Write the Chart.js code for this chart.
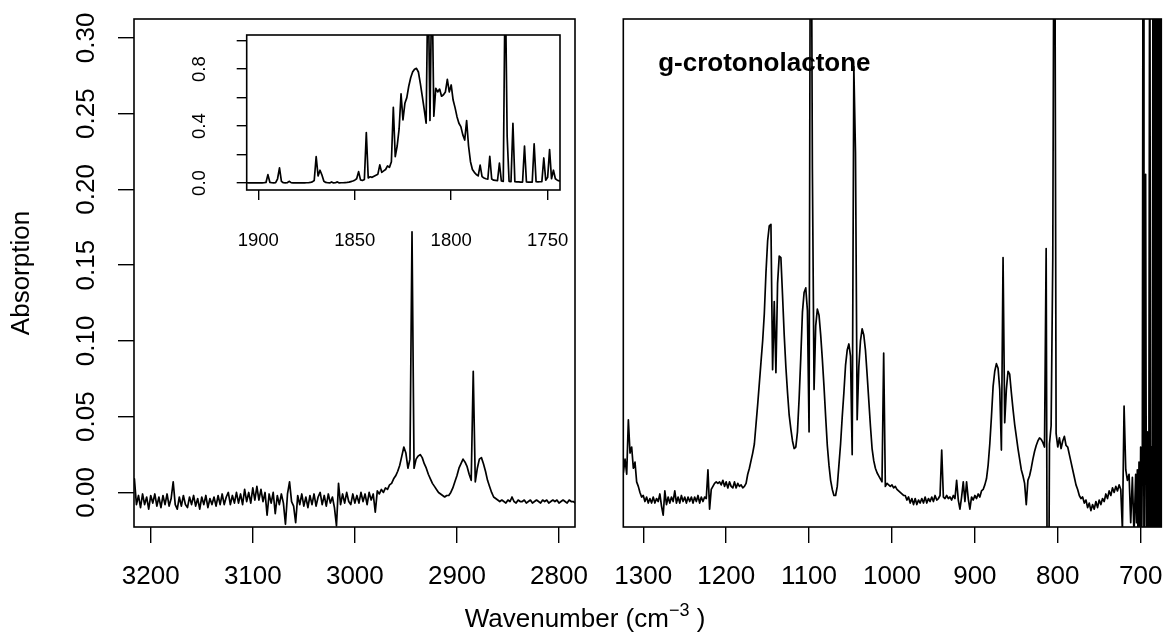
<!DOCTYPE html>
<html>
<head>
<meta charset="utf-8">
<title>g-crotonolactone IR absorption</title>
<script src="https://cdn.jsdelivr.net/npm/chart.js"></script>
<style>
    body { margin: 0; background: #fff; }
    .wrap { position: relative; width: 1166px; height: 635px; overflow: hidden; }
    canvas { position: absolute; top: 0; }
    #leftChart { left: 0; }
    #rightChart { left: 583px; }
    #insetChart { left: 180px; top: 20px; }
    #xTitle {
        position: absolute; left: 585px; top: 605px;
        transform: translateX(-50%);
        font: 26px/26px "Liberation Sans", Arial, sans-serif;
        white-space: nowrap; color: #000;
    }
    #xTitle sup { font-size: 18px; position: relative; top: -0.6em; vertical-align: baseline; }
</style>
</head>
<body>
<div class="wrap">
    <canvas id="leftChart" width="610" height="635"></canvas>
    <canvas id="rightChart" width="583" height="635"></canvas>
    <canvas id="insetChart" width="400" height="240"></canvas>
    <div id="xTitle">Wavenumber (cm<sup>−3</sup> )</div>
</div>
<script>
// wavenumber grids (cm-1), running high -> low
const leftStart = 3216, leftStep = 2;
const rightStart = 1324, rightStep = 2;
const edgeStart = 705, edgeStep = 1;
const insetStart = 1906, insetStep = 1;

// C-H stretch region, 3216 -> 2784
const leftAbs = [
    0.009, -0.008, -0.002, -0.010, -0.001, -0.008, -0.003, -0.011, -0.002, -0.007,
    -0.001, -0.009, -0.003, -0.010, -0.002, -0.008, -0.001, -0.009, -0.004, 0.007,
    -0.008, -0.011, -0.003, -0.009, -0.002, -0.008, -0.010, -0.003, -0.008, -0.002,
    -0.009, -0.004, -0.011, -0.003, -0.008, -0.002, -0.010, -0.004, -0.008, -0.003,
    -0.009, -0.002, -0.008, -0.001, -0.008, -0.003, 0.000, -0.008, -0.002, -0.007,
    0.000, -0.007, -0.001, -0.008, 0.002, -0.006, 0.000, -0.007, 0.003, -0.005,
    0.004, -0.005, 0.002, -0.006, 0.000, -0.015, -0.001, -0.007, 0.000, -0.014,
    -0.002, -0.008, -0.001, -0.007, -0.021, -0.001, 0.007, -0.006, -0.009, -0.020,
    -0.002, -0.008, -0.001, -0.009, -0.003, -0.010, -0.002, -0.008, -0.001, -0.009,
    -0.003, 0.000, -0.008, -0.002, -0.009, -0.001, -0.007, -0.003, -0.010, -0.022,
    0.006, -0.008, -0.001, -0.007, 0.000, -0.006, -0.008, -0.001, -0.007, -0.002,
    -0.007, 0.000, -0.006, -0.001, -0.008, 0.000, -0.005, -0.001, -0.013, 0.001,
    -0.001, 0.002, 0.000, 0.003, 0.002, 0.005, 0.006, 0.009, 0.011, 0.014,
    0.018, 0.024, 0.030, 0.026, 0.016, 0.022, 0.172, 0.016, 0.022, 0.024,
    0.025, 0.023, 0.019, 0.016, 0.012, 0.009, 0.006, 0.004, 0.002, 0.000,
    -0.001, -0.002, -0.003, -0.002, -0.002, 0.000, 0.003, 0.007, 0.011, 0.016,
    0.019, 0.022, 0.020, 0.017, 0.012, 0.008, 0.080, 0.007, 0.016, 0.022,
    0.023, 0.019, 0.014, 0.008, 0.004, 0.000, -0.003, -0.004, -0.005, -0.006,
    -0.005, -0.006, -0.007, -0.005, -0.006, -0.003, -0.006, -0.007, -0.005, -0.006,
    -0.006, -0.005, -0.007, -0.006, -0.005, -0.007, -0.006, -0.005, -0.006, -0.007,
    -0.005, -0.006, -0.005, -0.007, -0.006, -0.005, -0.006, -0.005, -0.007, -0.006,
    -0.005, -0.006, -0.007, -0.005, -0.006, -0.006, -0.007
];

// fingerprint region, 1324 -> 706
const rightAbs = [
    0.013, 0.022, 0.012, 0.048, 0.026, 0.030, 0.016, 0.020, 0.007, 0.004,
    0.000, -0.003, -0.002, -0.006, -0.003, -0.007, -0.004, -0.007, -0.003, -0.007,
    -0.004, -0.006, -0.001, -0.009, -0.015, 0.001, -0.008, -0.003, -0.007, -0.003,
    -0.006, 0.001, -0.007, -0.003, -0.007, -0.002, -0.006, -0.003, -0.007, -0.003,
    -0.006, -0.003, -0.007, -0.003, -0.006, -0.002, -0.007, -0.003, -0.006, -0.003,
    -0.004, 0.015, -0.011, 0.002, 0.004, 0.006, 0.007, 0.006, 0.007, 0.005,
    0.008, 0.004, 0.007, 0.003, 0.007, 0.004, 0.003, 0.007, 0.003, 0.006,
    0.004, 0.005, 0.003, 0.004, 0.006, 0.012, 0.016, 0.021, 0.026, 0.032,
    0.045, 0.058, 0.072, 0.086, 0.100, 0.118, 0.145, 0.166, 0.176, 0.177,
    0.081, 0.126, 0.079, 0.138, 0.156, 0.155, 0.130, 0.104, 0.083, 0.066,
    0.051, 0.042, 0.034, 0.029, 0.030, 0.040, 0.062, 0.089, 0.119, 0.132,
    0.135, 0.120, 0.040, 0.500, 0.213, 0.068, 0.110, 0.121, 0.117, 0.104,
    0.088, 0.070, 0.050, 0.031, 0.018, 0.008, 0.002, -0.002, -0.002, 0.004,
    0.018, 0.032, 0.050, 0.066, 0.084, 0.094, 0.098, 0.090, 0.025, 0.281,
    0.224, 0.048, 0.083, 0.100, 0.108, 0.104, 0.094, 0.078, 0.061, 0.044,
    0.029, 0.021, 0.016, 0.013, 0.011, 0.009, 0.007, 0.092, 0.004, 0.006,
    0.005, 0.004, 0.005, 0.003, 0.004, 0.002, 0.001, 0.000, -0.001, -0.002,
    -0.002, -0.005, -0.003, -0.007, -0.004, -0.008, -0.004, -0.008, -0.005, -0.007,
    -0.004, -0.007, -0.003, -0.007, -0.004, -0.006, -0.003, -0.006, -0.002, -0.005,
    -0.004, -0.002, 0.028, -0.003, -0.004, -0.002, -0.004, -0.003, -0.005, -0.002,
    -0.004, 0.008, -0.005, -0.011, -0.003, 0.007, -0.006, 0.007, -0.004, -0.011,
    -0.003, -0.005, -0.002, -0.004, -0.001, -0.003, 0.001, 0.002, 0.005, 0.009,
    0.018, 0.032, 0.050, 0.070, 0.080, 0.085, 0.082, 0.068, 0.028, 0.155,
    0.046, 0.068, 0.080, 0.078, 0.066, 0.055, 0.045, 0.037, 0.029, 0.022,
    0.015, 0.011, 0.006, -0.008, 0.008, 0.011, 0.016, 0.022, 0.027, 0.031,
    0.034, 0.036, 0.035, 0.033, 0.030, 0.161, -0.200, 0.032, 0.044, 0.155,
    0.500, 0.039, 0.030, 0.036, 0.029, 0.034, 0.037, 0.031, 0.030, 0.025,
    0.020, 0.015, 0.010, 0.005, 0.002, -0.002, -0.004, -0.003, -0.007, -0.005,
    -0.010, -0.007, -0.012, -0.008, -0.011, -0.006, -0.010, -0.005, -0.008, -0.004,
    -0.006, -0.001, -0.004, 0.001, -0.002, 0.003, 0.000, 0.004, 0.001, 0.005,
    0.002, -0.025, 0.057, 0.015, 0.008, 0.012, -0.020, 0.010, -0.028, 0.012
];

// low-frequency edge, sampled every 1 cm-1, 705 -> 675
const edgeAbs = [
    -0.020, 0.015, -0.045, 0.020, -0.050, 0.030, -0.050, 0.020, 0.450, -0.050,
    0.030, 0.210, -0.055, 0.040, -0.055, 0.050, 0.450, -0.060, 0.030, -0.060,
    0.450, -0.060, 0.450, -0.060, 0.450, -0.060, 0.450, -0.060, 0.450, -0.060,
    0.450
];

// carbonyl band (inset), 1906 -> 1744
const insetAbs = [
    0.002, 0.001, 0.002, 0.001, 0.002, 0.001, 0.002, 0.001, 0.001, 0.002,
    0.004, 0.059, 0.005, 0.002, 0.001, 0.002, 0.030, 0.106, 0.012, 0.002,
    0.001, 0.002, 0.012, 0.003, 0.001, 0.002, 0.001, 0.002, 0.001, 0.002,
    0.001, 0.002, 0.002, 0.004, 0.008, 0.018, 0.185, 0.050, 0.090, 0.056,
    0.012, 0.004, 0.002, 0.001, 0.008, 0.001, 0.002, 0.008, 0.001, 0.002,
    0.002, 0.003, 0.004, 0.006, 0.010, 0.014, 0.020, 0.030, 0.080, 0.022,
    0.018, 0.025, 0.354, 0.036, 0.044, 0.040, 0.048, 0.055, 0.062, 0.127,
    0.075, 0.085, 0.095, 0.120, 0.110, 0.150, 0.532, 0.185, 0.260, 0.380,
    0.626, 0.443, 0.560, 0.600, 0.680, 0.740, 0.780, 0.800, 0.806, 0.780,
    0.700, 0.610, 0.520, 0.420, 1.500, 0.440, 1.500, 0.470, 0.666, 0.640,
    0.660, 0.610, 0.620, 0.640, 0.729, 0.640, 0.689, 0.583, 0.530, 0.466,
    0.420, 0.396, 0.340, 0.302, 0.438, 0.260, 0.150, 0.095, 0.075, 0.060,
    0.050, 0.126, 0.045, 0.035, 0.030, 0.028, 0.188, 0.028, 0.020, 0.018,
    0.016, 0.140, 0.015, 0.012, 1.500, 0.330, 0.012, 0.010, 0.420, 0.010,
    0.008, 0.008, 0.006, 0.007, 0.260, 0.008, 0.006, 0.007, 0.006, 0.275,
    0.010, 0.008, 0.009, 0.010, 0.176, 0.020, 0.040, 0.235, 0.030, 0.090,
    0.030, 0.020, 0.015
];

// axis ticks
const leftXTicks = [3200, 3100, 3000, 2900, 2800];
const rightXTicks = [1300, 1200, 1100, 1000, 900, 800, 700];
const absTicks = [0, 0.05, 0.10, 0.15, 0.20, 0.25, 0.30];
const insetXTicks = [1900, 1850, 1800, 1750];
const insetYTicks = [0, 0.2, 0.4, 0.6, 0.8, 1.0];
const insetYLabels = ['0.0', '', '0.4', '', '0.8', ''];

const family = '"Liberation Sans", Arial, sans-serif';
Chart.defaults.font.family = family;
Chart.defaults.color = '#000';

function toPoints(start, step, values) {
    return values.map((v, i) => ({x: start - i * step, y: v}));
}

function spectrum(points) {
    return {
        data: points,
        showLine: true,
        borderColor: '#000',
        borderWidth: 1.7,
        borderJoinStyle: 'round',
        borderCapStyle: 'round',
        pointRadius: 0,
        tension: 0
    };
}

// fixed tick lists instead of auto ticks
function useTicks(list) {
    return function (scale) {
        scale.ticks = list.map(v => ({value: v}));
    };
}

// pin axis size so the plot box lands where we want it
function pinSize(prop, size) {
    return function (scale) {
        scale[prop] = size;
        scale.paddingLeft = scale.paddingRight = scale.paddingTop = scale.paddingBottom = 0;
    };
}

function tickMarks(len) {
    return {drawOnChartArea: false, tickLength: len, color: '#000', lineWidth: 1.4};
}

// plain frame round the plot area
const boxPlugin = {
    id: 'box',
    afterDatasetsDraw(chart) {
        const a = chart.chartArea, c = chart.ctx;
        c.save();
        c.strokeStyle = '#000';
        c.lineWidth = 1.6;
        c.strokeRect(a.left, a.top, a.right - a.left, a.bottom - a.top);
        c.restore();
    }
};

// sample name written inside the plot
const nameLabel = {
    id: 'nameLabel',
    beforeDatasetsDraw(chart, args, opts) {
        if (!opts.text) return;
        const c = chart.ctx;
        c.save();
        c.font = 'bold 26px ' + family;
        c.fillStyle = '#000';
        c.textAlign = 'left';
        c.textBaseline = 'alphabetic';
        c.fillText(opts.text, chart.scales.x.getPixelForValue(opts.x), chart.scales.y.getPixelForValue(opts.y));
        c.restore();
    }
};

const absMin = -0.0228, absMax = 0.3125;

//left panel
const leftCtx = document.getElementById('leftChart').getContext('2d');
const leftChart = new Chart(leftCtx, {
    type: 'scatter',
    data: {datasets: [spectrum(toPoints(leftStart, leftStep, leftAbs))]},
    plugins: [boxPlugin],
    options: {
        responsive: false,
        animation: false,
        devicePixelRatio: 1,
        layout: {padding: {left: 0, top: 19, right: 35, bottom: 0}},
        scales: {
            x: {
                type: 'linear', reverse: true, min: 2784.3, max: 3216.4,
                afterBuildTicks: useTicks(leftXTicks),
                afterFit: pinSize('height', 108),
                grid: tickMarks(16),
                border: {display: false},
                ticks: {autoSkip: false, maxRotation: 0, padding: 18, font: {size: 26}, callback: v => String(v)}
            },
            y: {
                min: absMin, max: absMax,
                afterBuildTicks: useTicks(absTicks),
                afterFit: pinSize('width', 134),
                grid: tickMarks(16),
                border: {display: false},
                ticks: {autoSkip: false, minRotation: 90, maxRotation: 90, crossAlign: 'center', padding: 6,
                    font: {size: 26}, callback: v => v.toFixed(2)},
                title: {display: true, text: 'Absorption', font: {size: 26}, padding: {top: 6, bottom: 0}}
            }
        },
        plugins: {legend: {display: false}, tooltip: {enabled: false}}
    }
});

//right panel
const rightPoints = toPoints(rightStart, rightStep, rightAbs).concat(toPoints(edgeStart, edgeStep, edgeAbs));
const rightCtx = document.getElementById('rightChart').getContext('2d');
const rightChart = new Chart(rightCtx, {
    type: 'scatter',
    data: {datasets: [spectrum(rightPoints)]},
    plugins: [boxPlugin, nameLabel],
    options: {
        responsive: false,
        animation: false,
        devicePixelRatio: 1,
        layout: {padding: {left: 40.3, top: 19, right: 4.7, bottom: 0}},
        scales: {
            x: {
                type: 'linear', reverse: true, min: 675.1, max: 1324.1,
                afterBuildTicks: useTicks(rightXTicks),
                afterFit: pinSize('height', 108),
                grid: tickMarks(16),
                border: {display: false},
                ticks: {autoSkip: false, maxRotation: 0, padding: 18, font: {size: 26}, callback: v => String(v)}
            },
            y: {display: false, min: absMin, max: absMax}
        },
        plugins: {
            legend: {display: false},
            tooltip: {enabled: false},
            nameLabel: {text: 'g-crotonolactone', x: 1282, y: 0.278}
        }
    }
});

//inset, carbonyl band
const insetCtx = document.getElementById('insetChart').getContext('2d');
const insetChart = new Chart(insetCtx, {
    type: 'scatter',
    data: {datasets: [spectrum(toPoints(insetStart, insetStep, insetAbs))]},
    plugins: [boxPlugin],
    options: {
        responsive: false,
        animation: false,
        devicePixelRatio: 1,
        layout: {padding: {left: 0, top: 15, right: 20, bottom: 0}},
        scales: {
            x: {
                type: 'linear', reverse: true, min: 1743.6, max: 1906.0,
                afterBuildTicks: useTicks(insetXTicks),
                afterFit: pinSize('height', 70),
                grid: tickMarks(10),
                border: {display: false},
                ticks: {autoSkip: false, maxRotation: 0, padding: 30, font: {size: 18.5}, callback: v => String(v)}
            },
            y: {
                min: -0.049, max: 1.04,
                afterBuildTicks: useTicks(insetYTicks),
                afterFit: pinSize('width', 66.7),
                grid: tickMarks(10),
                border: {display: false},
                ticks: {autoSkip: false, minRotation: 90, maxRotation: 90, crossAlign: 'center', padding: 24,
                    font: {size: 18.5}, callback: (v, i) => insetYLabels[i]}
            }
        },
        plugins: {legend: {display: false}, tooltip: {enabled: false}}
    }
});
</script>
</body>
</html>
